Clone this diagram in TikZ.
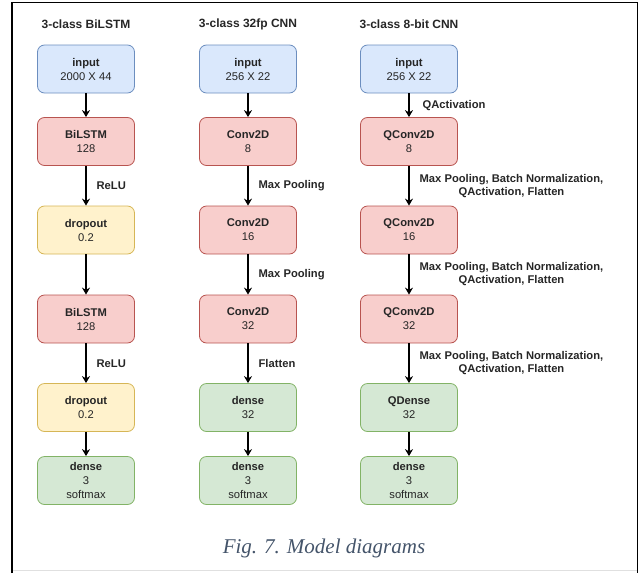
\documentclass[tikz,border=0pt]{standalone}
\usepackage{fontspec}
\setmainfont{Liberation Sans}
\newfontfamily\capfont{Liberation Serif}
\usetikzlibrary{arrows.meta}

\definecolor{inblue}{HTML}{DAE8FC}
\definecolor{inbluedraw}{HTML}{6C8EBF}
\definecolor{lyred}{HTML}{F8CECC}
\definecolor{lyreddraw}{HTML}{B85450}
\definecolor{dpyel}{HTML}{FFF2CC}
\definecolor{dpyeldraw}{HTML}{D6B656}
\definecolor{dsgrn}{HTML}{D5E8D4}
\definecolor{dsgrndraw}{HTML}{82B366}
\definecolor{capgrey}{HTML}{44546A}

\begin{document}
\begin{tikzpicture}[>={Stealth[length=7pt,width=8pt]}, x=1pt, y=-1pt,
    every node/.style={font=\fontsize{11.2}{14}\selectfont, text=black!85},
    layer/.style={rounded corners=7pt, line width=0.8pt, minimum width=97pt,
        minimum height=48pt, inner sep=0pt, align=center},
    inbox/.style={layer, fill=inblue, draw=inbluedraw},
    redbox/.style={layer, fill=lyred, draw=lyreddraw},
    yelbox/.style={layer, fill=dpyel, draw=dpyeldraw},
    grnbox/.style={layer, fill=dsgrn, draw=dsgrndraw},
    title/.style={font=\bfseries\fontsize{12}{14}\selectfont},
    lbl/.style={midway, right, inner sep=0pt, xshift=10pt, align=center,
        font=\bfseries\fontsize{11.2}{13}\selectfont},
    flow/.style={->, line width=1.3pt}]
                \useasboundingbox (0,0) rectangle (642,573);

                % frame
                \draw[black!12, line width=1pt] (12,570.5) -- (637.5,570.5);
                \draw[line width=1.6pt] (12,573) -- (12,2.5) -- (637.5,2.5) -- (637.5,573);

                % BiLSTM column
                \node[title] (t1) at (86,24) {3-class BiLSTM};
                \node[inbox] (in1) at (86,69) {\textbf{input}\\2000 X 44};
                \node[redbox] (lstm1) at (86,141.5) {\textbf{BiLSTM}\\128};
                \node[yelbox] (drop1) at (86,230) {\textbf{dropout}\\0.2};
                \node[redbox] (lstm2) at (86,319) {\textbf{BiLSTM}\\128};
                \node[yelbox] (drop2) at (86,407.5) {\textbf{dropout}\\0.2};
                \node[grnbox] (out1) at (86,480.5) {\textbf{dense}\\3\\softmax};

                \draw[flow] (in1) -- (lstm1);
                \draw[flow] (lstm1) -- (drop1) node[lbl] {ReLU};
                \draw[flow] (drop1) -- (lstm2);
                \draw[flow] (lstm2) -- (drop2) node[lbl] {ReLU};
                \draw[flow] (drop2) -- (out1);

                % 32fp CNN column
                \node[title] (t2) at (248,24) {3-class 32fp CNN};
                \node[inbox] (in2) at (248,69) {\textbf{input}\\256 X 22};
                \node[redbox] (conv1) at (248,141.5) {\textbf{Conv2D}\\8};
                \node[redbox] (conv2) at (248,230) {\textbf{Conv2D}\\16};
                \node[redbox] (conv3) at (248,319) {\textbf{Conv2D}\\32};
                \node[grnbox] (fc2) at (248,407.5) {\textbf{dense}\\32};
                \node[grnbox] (out2) at (248,480.5) {\textbf{dense}\\3\\softmax};

                \draw[flow] (in2) -- (conv1);
                \draw[flow] (conv1) -- (conv2) node[lbl] {Max Pooling};
                \draw[flow] (conv2) -- (conv3) node[lbl] {Max Pooling};
                \draw[flow] (conv3) -- (fc2) node[lbl] {Flatten};
                \draw[flow] (fc2) -- (out2);

                % 8-bit CNN column
                \node[title] (t3) at (409,24) {3-class 8-bit CNN};
                \node[inbox] (in3) at (409,69) {\textbf{input}\\256 X 22};
                \node[redbox] (qconv1) at (409,141.5) {\textbf{QConv2D}\\8};
                \node[redbox] (qconv2) at (409,230) {\textbf{QConv2D}\\16};
                \node[redbox] (qconv3) at (409,319) {\textbf{QConv2D}\\32};
                \node[grnbox] (qfc) at (409,407.5) {\textbf{QDense}\\32};
                \node[grnbox] (out3) at (409,480.5) {\textbf{dense}\\3\\softmax};

                \draw[flow] (in3) -- (qconv1) node[lbl, xshift=3pt] {QActivation};
                \draw[flow] (qconv1) -- (qconv2) node[lbl] {Max Pooling, Batch Normalization,\\QActivation, Flatten};
                \draw[flow] (qconv2) -- (qconv3) node[lbl] {Max Pooling, Batch Normalization,\\QActivation, Flatten};
                \draw[flow] (qconv3) -- (qfc) node[lbl] {Max Pooling, Batch Normalization,\\QActivation, Flatten};
                \draw[flow] (qfc) -- (out3);

                % caption
                \node[font=\capfont\itshape\fontsize{21}{24}\selectfont, text=capgrey] (cap) at (324,548) {Fig. 7. Model diagrams};
            \end{tikzpicture}
\end{document}
